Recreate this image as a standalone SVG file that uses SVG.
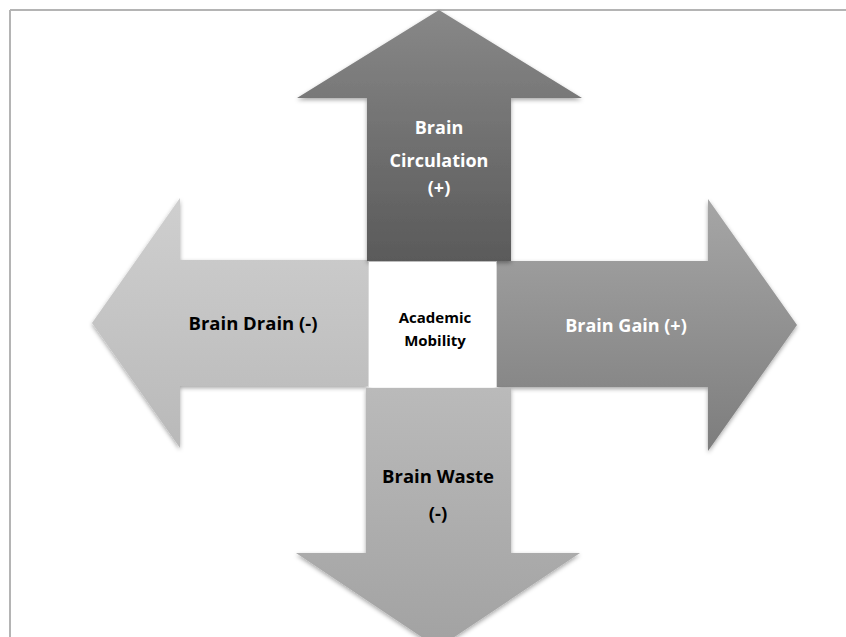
<svg xmlns="http://www.w3.org/2000/svg" width="846" height="637" viewBox="0 0 846 637">
<style>
.lbl{font-family:"Open Sans","Liberation Sans",sans-serif;font-weight:bold;text-anchor:middle}
.w{fill:#ffffff}
.k{fill:#000000}
</style>
<defs>
<linearGradient id="gUp" x1="0" y1="0" x2="0" y2="1"><stop offset="0" stop-color="#888888"/><stop offset="1" stop-color="#5a5a5a"/></linearGradient>
<linearGradient id="gLeft" x1="0" y1="0" x2="0" y2="1"><stop offset="0" stop-color="#cfcfcf"/><stop offset="1" stop-color="#b9b9b9"/></linearGradient>
<linearGradient id="gRight" x1="0" y1="0" x2="0" y2="1"><stop offset="0" stop-color="#a6a6a6"/><stop offset="1" stop-color="#7d7d7d"/></linearGradient>
<linearGradient id="gDown" x1="0" y1="0" x2="0" y2="1"><stop offset="0" stop-color="#bababa"/><stop offset="1" stop-color="#a2a2a2"/></linearGradient>
<filter id="sh" x="-10%" y="-10%" width="120%" height="120%"><feDropShadow dx="0" dy="2" stdDeviation="2" flood-color="#000" flood-opacity="0.35"/></filter>
</defs>
<rect width="846" height="637" fill="#ffffff"/>
<g id="frame" stroke="#b4b4b4" stroke-width="2" fill="none">
<line x1="10" y1="10" x2="846" y2="10"/>
<line x1="10" y1="10" x2="10" y2="637"/>
</g>
<g id="brain-drain">
<polygon points="368,260 180,260 180,198 92,323 180,448 180,386 368,386" fill="url(#gLeft)" filter="url(#sh)"/>
<text class="lbl k" x="253" y="330" font-size="18.5">Brain Drain (-)</text>
</g>
<g id="brain-gain">
<polygon points="497,261 708,261 708,199 797,325 708,451 708,387 497,387" fill="url(#gRight)" filter="url(#sh)"/>
<text class="lbl w" x="626" y="332" font-size="18">Brain Gain (+)</text>
</g>
<g id="brain-waste">
<polygon points="366,388 511,388 511,553 580,553 438,648 296,553 366,553" fill="url(#gDown)" filter="url(#sh)"/>
<text class="lbl k" x="438" y="483" font-size="18.5">Brain Waste</text>
<text class="lbl k" x="438" y="520" font-size="18.5">(-)</text>
</g>
<g id="brain-circulation">
<polygon points="367,261 367,98 297,98 439,10 582,98 511,98 511,261" fill="url(#gUp)" filter="url(#sh)"/>
<text class="lbl w" x="439" y="134" font-size="18">Brain</text>
<text class="lbl w" x="439" y="167" font-size="18">Circulation</text>
<text class="lbl w" x="439" y="194" font-size="18">(+)</text>
</g>
<g id="academic-mobility">
<rect x="369" y="262" width="127" height="125" fill="#ffffff"/>
<text class="lbl k" x="435" y="323" font-size="15">Academic</text>
<text class="lbl k" x="435" y="346" font-size="15">Mobility</text>
</g>
<g id="connectors"/>
</svg>
